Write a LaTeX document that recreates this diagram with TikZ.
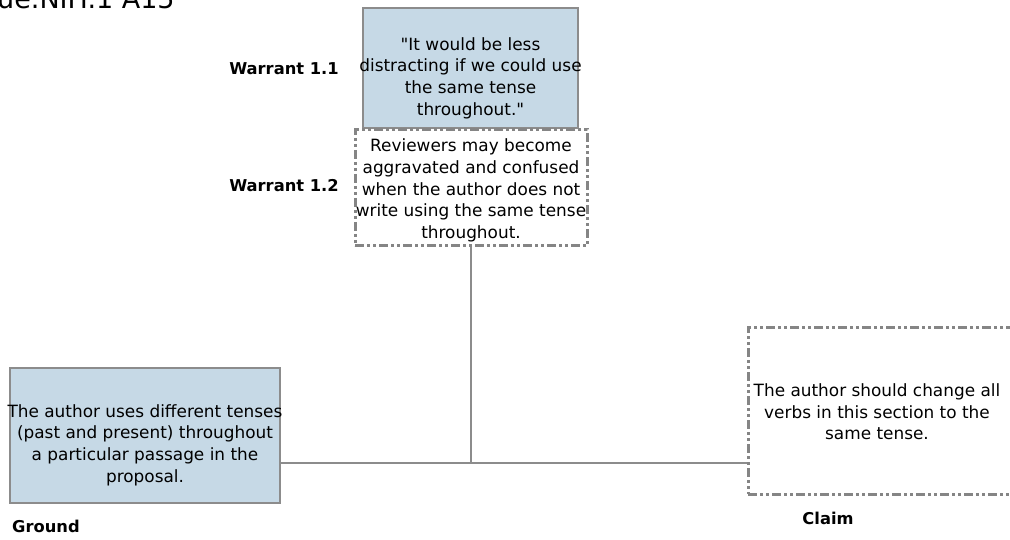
\documentclass[tikz,border=0pt]{standalone}
\usepackage{fontspec}
\setmainfont{DejaVu Sans}
\definecolor{boxblue}{HTML}{C6D9E6}
\definecolor{edgegray}{HTML}{8C8C8C}
\definecolor{dashgray}{HTML}{858585}
\tikzset{
  filledbox/.style={draw=edgegray, line width=1.4pt, fill=boxblue, inner sep=0pt},
  dashbox/.style={draw=dashgray, line width=3pt, fill=white, inner sep=0pt,
    dash pattern=on 9pt off 3pt on 3pt off 3pt on 3pt off 3pt},
  boxtext/.style={align=center, font=\fontsize{16.9}{21.6}\selectfont, inner sep=0pt},
  rolelabel/.style={font=\fontsize{16.3}{19}\selectfont\bfseries, inner sep=0pt},
  link/.style={draw=edgegray, line width=1.3pt}
}
\begin{document}
\begin{tikzpicture}[x=1pt, y=-1pt]
\useasboundingbox (0,0) rectangle (1010,540);

% heading, partly above the page
\node[anchor=base west, inner sep=0pt, font=\fontsize{27}{32}\selectfont] (title) at (-3,9) {ue.NIH.1 A15};

% connectors
\coordinate (joint) at (471,463);

% warrant 1.1
\node[filledbox, minimum width=215pt, minimum height=120pt] (w11) at (470.5,68) {};
\node[boxtext] (w11text) at (470.5,78) {\textquotedbl It would be less\\distracting if we could use\\the same tense\\throughout.\textquotedbl};
\node[rolelabel] (w11label) at (284,69) {Warrant 1.1};

% warrant 1.2
\node[dashbox, minimum width=232pt, minimum height=116pt] (w12) at (471,188) {};
\node[boxtext] (w12text) at (471,190.5) {Reviewers may become\\aggravated and confused\\when the author does not\\write using the same tense\\throughout.};
\node[rolelabel] (w12label) at (284,186) {Warrant 1.2};

% ground
\node[filledbox, minimum width=270pt, minimum height=135pt] (ground) at (145,435.5) {};
\node[boxtext] (groundtext) at (145,445) {The author uses different tenses\\(past and present) throughout\\a particular passage in the\\proposal.};
\node[rolelabel, anchor=west] (groundlabel) at (12,526) {Ground};

% claim
\node[dashbox, minimum width=266pt, minimum height=167pt] (claim) at (881,410.5) {};
\node[boxtext] (claimtext) at (877,412) {The author should change all\\verbs in this section to the\\same tense.};
\node[rolelabel] (claimlabel) at (828,518) {Claim};

% ground and claim joined, warrant hanging from the join
\draw[link] (ground.east |- joint) -- (claim.west |- joint);
\draw[link] (w12.south) -- (joint);
\end{tikzpicture}
\end{document}
